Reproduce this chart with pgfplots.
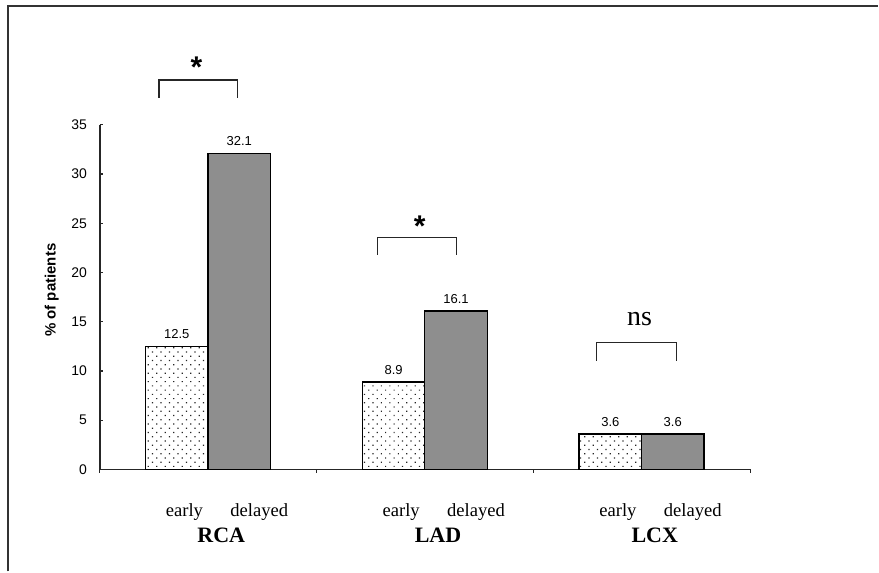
\documentclass[border=0pt]{standalone}
\usepackage{fontspec}
\setmainfont{Liberation Serif}
\newfontfamily\sansf{Liberation Sans}
\usepackage{pgfplots}
\pgfplotsset{compat=1.18}
\usetikzlibrary{patterns.meta}
\definecolor{bargray}{HTML}{8E8E8E}
\definecolor{framegray}{HTML}{333333}
\begin{document}
\begin{tikzpicture}
\begin{axis}[
  at={(0,0)}, anchor=south west,
  scale only axis, width=325.5pt, height=172.5pt,
  xmin=-0.5, xmax=2.5, ymin=0, ymax=35,
  axis lines=left, axis line style={-, line width=0.7pt, black!85},
  xtick={-0.5,0.5,1.5,2.5}, xticklabels={},
  ytick={0,5,...,35},
  tick align=inside, major tick length=1.6pt,
  tick style={line width=0.6pt, black!85},
  /pgf/number format/assume math mode=true,
  yticklabel style={font=\sansf\fontsize{7}{8}\selectfont, xshift=-3pt},
  ylabel={\sansf\bfseries\fontsize{7.5}{9}\selectfont \% of patients},
  ylabel style={at={(axis description cs:-0.074,0.52)}, anchor=center},
  clip=false,
  ybar, bar width=0.288,
  nodes near coords,
  every node near coord/.append style={font=\sansf\fontsize{6.5}{8}\selectfont, yshift=0pt},
]
\addplot[bar shift=-0.145, draw=black, line width=0.7pt,
  pattern={Dots[distance=3pt, radius=0.42pt, angle=45]}, pattern color=black!85]
  coordinates {(0,12.5) (1,8.9) (2,3.6)};
\addplot[bar shift=0.143, draw=black, line width=0.7pt, fill=bargray]
  coordinates {(0,32.1) (1,16.1) (2,3.6)};

% significance brackets
\draw[line width=0.7pt, black!85] (axis cs:-0.228,37.74) -- (axis cs:-0.228,39.57) -- (axis cs:0.136,39.57) -- (axis cs:0.136,37.74);
\node[font=\sansf\bfseries\fontsize{15}{15}\selectfont] at (axis cs:-0.055,40.9) {*};
\draw[line width=0.7pt, black!85] (axis cs:0.781,21.81) -- (axis cs:0.781,23.54) -- (axis cs:1.145,23.54) -- (axis cs:1.145,21.81);
\node[font=\sansf\bfseries\fontsize{15}{15}\selectfont] at (axis cs:0.975,24.7) {*};
\draw[line width=0.7pt, black!85] (axis cs:1.790,11.06) -- (axis cs:1.790,12.88) -- (axis cs:2.159,12.88) -- (axis cs:2.159,11.06);
\node[font=\fontsize{14}{14}\selectfont] at (axis cs:1.99,15.3) {ns};

% category labels
\node[font=\fontsize{9.3}{10}\selectfont] at (axis cs:-0.11,-4.3) {early};
\node[font=\fontsize{9.3}{10}\selectfont] at (axis cs:0.235,-4.3) {delayed};
\node[font=\bfseries\fontsize{11}{12}\selectfont] at (axis cs:0.06,-6.7) {RCA};
\node[font=\fontsize{9.3}{10}\selectfont] at (axis cs:0.89,-4.3) {early};
\node[font=\fontsize{9.3}{10}\selectfont] at (axis cs:1.235,-4.3) {delayed};
\node[font=\bfseries\fontsize{11}{12}\selectfont] at (axis cs:1.06,-6.7) {LAD};
\node[font=\fontsize{9.3}{10}\selectfont] at (axis cs:1.89,-4.3) {early};
\node[font=\fontsize{9.3}{10}\selectfont] at (axis cs:2.235,-4.3) {delayed};
\node[font=\bfseries\fontsize{11}{12}\selectfont] at (axis cs:2.06,-6.7) {LCX};
\end{axis}
\draw[line width=1pt, framegray] (-46pt,-51pt) -- (-46pt,231.75pt) -- (389.5pt,231.75pt);
\path[use as bounding box] (-50pt,-51pt) rectangle (389.5pt,235pt);
\end{tikzpicture}
\end{document}
